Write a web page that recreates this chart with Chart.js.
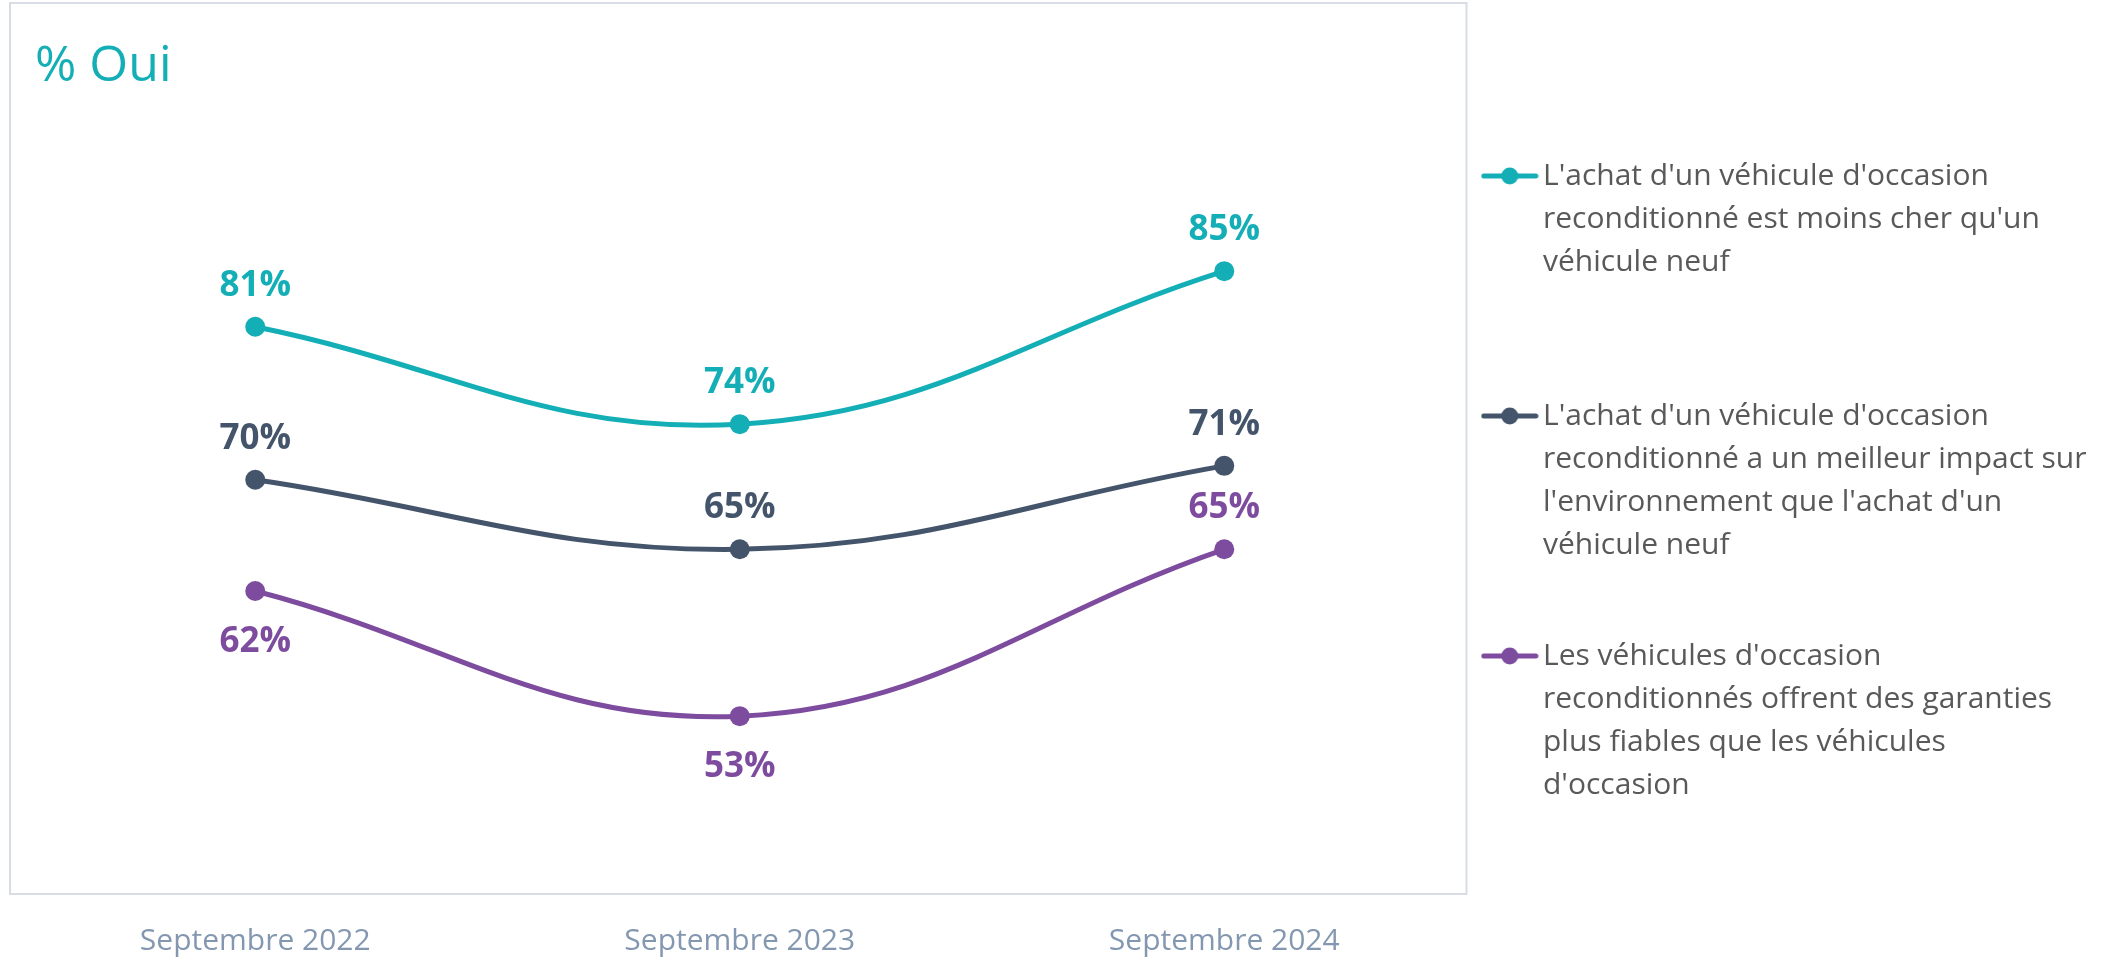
<!DOCTYPE html>
<html lang="fr">
<head>
<meta charset="utf-8">
<title>% Oui</title>
<script src="https://cdn.jsdelivr.net/npm/chart.js"></script>
<style>
  html, body { margin: 0; padding: 0; background: #fff; }
  #wrap { position: relative; width: 2107px; height: 960px; }
</style>
</head>
<body>
<div id="wrap"><canvas id="ouiChart"></canvas></div>
<script>
// données
const periodes = ['Septembre 2022', 'Septembre 2023', 'Septembre 2024'];
const moinsCher = [81, 74, 85];
const environnement = [70, 65, 71];
const garanties = [62, 53, 65];

const legendeMoinsCher = ["L'achat d'un véhicule d'occasion", "reconditionné est moins cher qu'un", "véhicule neuf"];
const legendeEnvironnement = ["L'achat d'un véhicule d'occasion", "reconditionné a un meilleur impact sur", "l'environnement que l'achat d'un", "véhicule neuf"];
const legendeGaranties = ["Les véhicules d'occasion", "reconditionnés offrent des garanties", "plus fiables que les véhicules", "d'occasion"];

const FONT = "'Open Sans', 'Noto Sans', sans-serif";
const TEAL = '#14AFB6';
const SLATE = '#44546A';
const PURPLE = '#7E4C9F';

// petite image "ligne + point" pour la légende
function markerImage(color) {
    const c = document.createElement('canvas');
    c.width = 58;
    c.height = 20;
    const g = c.getContext('2d');
    g.strokeStyle = color;
    g.lineWidth = 5;
    g.lineCap = 'round';
    g.beginPath();
    g.moveTo(3, 10);
    g.lineTo(55, 10);
    g.stroke();
    g.fillStyle = color;
    g.beginPath();
    g.arc(29, 10, 8.5, 0, Math.PI * 2);
    g.fill();
    return c;
}

// toutes les entrées sur 5 lignes pour un espacement régulier
function padLines(lines) {
    const out = lines.slice();
    while (out.length < 5) out.push('');
    return out;
}

// largeur du texte le plus long -> marge droite pour caler la légende
const legendFont = "30px " + FONT;
const measure = document.createElement('canvas').getContext('2d');
measure.font = legendFont;
let textW = 0;
[legendeMoinsCher, legendeEnvironnement, legendeGaranties].forEach(lines => {
    const longest = lines.reduce((a, b) => a.length > b.length ? a : b);
    textW = Math.max(textW, measure.measureText(longest).width);
});
const rightPad = Math.max(0, 554 - textW);

// cadre + titre
const framePlugin = {
    id: 'frame',
    beforeDraw(chart) {
        const {ctx, chartArea} = chart;
        ctx.save();
        ctx.strokeStyle = '#D8DCE4';
        ctx.lineWidth = 2;
        ctx.strokeRect(chartArea.left - 3, chartArea.top - 54, chartArea.width + 3, chartArea.height + 26);
        ctx.fillStyle = TEAL;
        ctx.font = '50px ' + FONT;
        ctx.textBaseline = 'alphabetic';
        ctx.textAlign = 'left';
        ctx.fillText('% Oui', chartArea.left + 22, 81);
        ctx.restore();
    }
};

// étiquettes de valeurs
const valueLabels = {
    id: 'valueLabels',
    afterDatasetsDraw(chart) {
        const ctx = chart.ctx;
        ctx.save();
        ctx.font = 'bold 35px ' + FONT;
        ctx.textAlign = 'center';
        ctx.textBaseline = 'middle';
        chart.data.datasets.forEach((ds, i) => {
            const meta = chart.getDatasetMeta(i);
            meta.data.forEach((pt, j) => {
                const below = ds.labelPos[j] === 'below';
                ctx.fillStyle = ds.borderColor;
                ctx.fillText(ds.data[j] + '%', pt.x, pt.y + (below ? 51 : -41));
            });
        });
        ctx.restore();
    }
};

function serie(label, data, color, lines, labelPos) {
    return {
        label: label,
        data: data,
        borderColor: color,
        backgroundColor: color,
        borderWidth: 5,
        tension: 0.4,
        pointRadius: 10,
        pointBorderWidth: 0,
        pointBackgroundColor: color,
        fill: false,
        legendLines: lines,
        labelPos: labelPos
    };
}

const ctx = document.getElementById('ouiChart').getContext('2d');
const myChart = new Chart(ctx, {
    type: 'line',
    data: {
        labels: periodes,
        datasets: [
            serie(legendeMoinsCher.join(' '), moinsCher, TEAL, legendeMoinsCher, ['above', 'above', 'above']),
            serie(legendeEnvironnement.join(' '), environnement, SLATE, legendeEnvironnement, ['above', 'above', 'above']),
            serie(legendeGaranties.join(' '), garanties, PURPLE, legendeGaranties, ['below', 'below', 'above'])
        ]
    },
    options: {
        responsive: true,
        maintainAspectRatio: false,
        animation: false,
        events: [],
        layout: {
            padding: { left: 13, top: 57, right: rightPad, bottom: 0 }
        },
        scales: {
            x: {
                offset: true,
                grid: { display: false, drawTicks: false },
                border: { display: false },
                ticks: {
                    color: '#8497B0',
                    font: { family: FONT, size: 30, lineHeight: '32px' },
                    padding: 3,
                    maxRotation: 0,
                    autoSkip: false
                }
            },
            y: {
                display: false,
                min: 38.2,
                max: 100.4
            }
        },
        plugins: {
            tooltip: { enabled: false },
            legend: {
                position: 'right',
                align: 'center',
                labels: {
                    usePointStyle: true,
                    pointStyleWidth: 36.5,
                    padding: 25,
                    color: '#595959',
                    font: { family: FONT, size: 30, lineHeight: '43px' },
                    generateLabels(chart) {
                        return chart.data.datasets.map((ds, i) => ({
                            text: padLines(ds.legendLines),
                            fillStyle: ds.borderColor,
                            strokeStyle: ds.borderColor,
                            fontColor: '#595959',
                            lineWidth: 0,
                            pointStyle: markerImage(ds.borderColor),
                            hidden: false,
                            datasetIndex: i
                        }));
                    }
                }
            }
        }
    },
    plugins: [framePlugin, valueLabels]
});
</script>
</body>
</html>
